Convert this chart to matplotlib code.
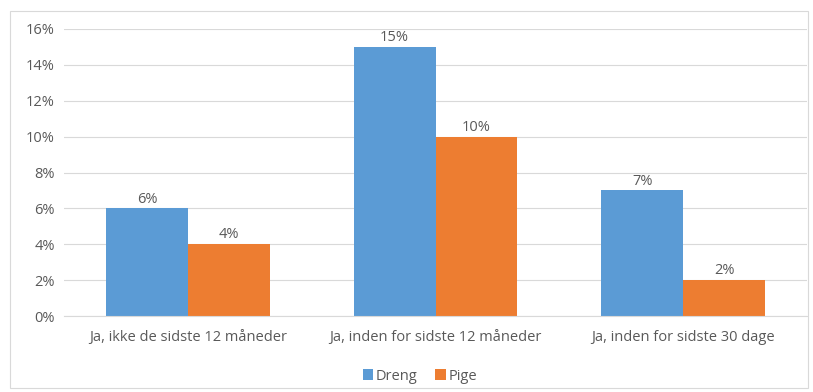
import matplotlib.pyplot as plt
import numpy as np
from matplotlib.patches import Rectangle

categories = ["Ja, ikke de sidste 12 måneder", "Ja, inden for sidste 12 måneder", "Ja, inden for sidste 30 dage"]
dreng = [6, 15, 7]
pige = [4, 10, 2]
series_names = ["Dreng", "Pige"]

blue = "#5B9BD5"
orange = "#ED7D31"
text_col = "#595959"

plt.rcParams["font.family"] = ["Open Sans", "DejaVu Sans"]

W, H = 813, 392
fig = plt.figure(figsize=(W / 100, H / 100), dpi=100)
fig.patches.append(Rectangle((10 / W, 4 / H), 798 / W, 377 / H, transform=fig.transFigure,
                             fill=False, edgecolor="#D9D9D9", linewidth=0.8))
ax = fig.add_axes([64 / W, 76 / H, 743 / W, 287 / H])

x = np.arange(len(categories))
bw = 0.33
b1 = ax.bar(x - bw / 2, dreng, bw, color=blue, label=series_names[0])
b2 = ax.bar(x + bw / 2, pige, bw, color=orange, label=series_names[1])

fs = 10.5
for bars in (b1, b2):
    for r in bars:
        ax.text(r.get_x() + r.get_width() / 2, r.get_height() + 0.1, f"{r.get_height():.0f}%",
                ha="center", va="bottom", fontsize=fs, color=text_col)

ax.set_xlim(-0.5, 2.5)
ax.set_ylim(0, 16)
ax.set_yticks(range(0, 17, 2))
ax.set_yticklabels([f"{v}%" for v in range(0, 17, 2)])
ax.set_xticks(x)
ax.set_xticklabels(categories)
ax.tick_params(axis="both", length=0, labelsize=fs, labelcolor=text_col)
ax.tick_params(axis="y", pad=6.5)
ax.tick_params(axis="x", pad=10)
ax.grid(axis="y", color="#D9D9D9", linewidth=0.8)
ax.set_axisbelow(True)
for s in ["top", "right", "left"]:
    ax.spines[s].set_visible(False)
ax.spines["bottom"].set_color("#D9D9D9")

fig.legend(handles=[b1, b2], loc="center", bbox_to_anchor=(420 / W, 1 - 376 / H), ncol=2,
           frameon=False, fontsize=fs, labelcolor=text_col, handlelength=0.7, handleheight=0.7,
           columnspacing=1.2, handletextpad=0.2)

fig.savefig("out.png", dpi=100)
